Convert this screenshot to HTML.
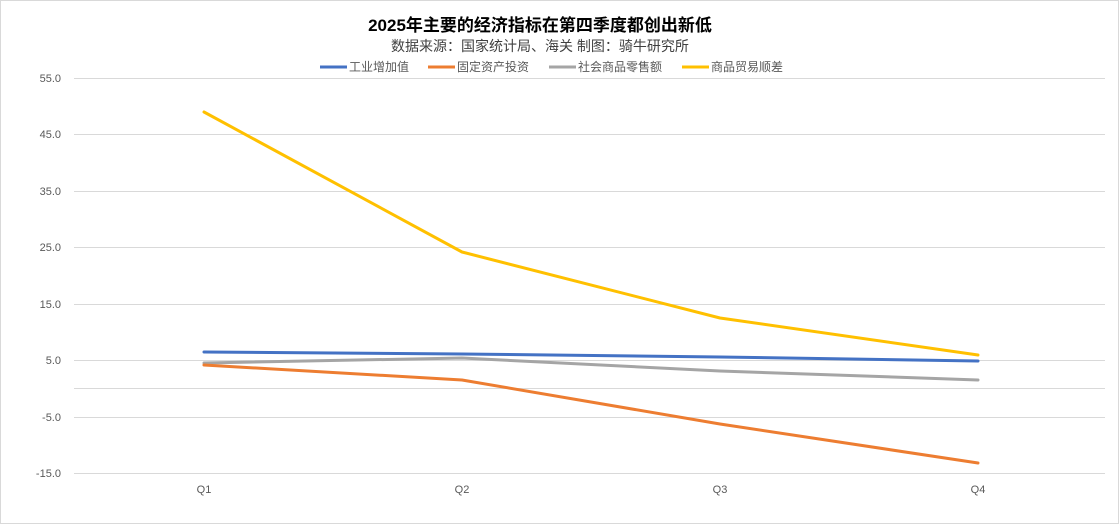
<!DOCTYPE html>
<html><head><meta charset="utf-8"><style>
html,body{margin:0;padding:0;background:#fff;}
svg{display:block;}
text{font-family:"Liberation Sans","Noto Sans CJK SC",sans-serif;}
</style></head><body>
<svg width="1119" height="524" viewBox="0 0 1119 524" xmlns="http://www.w3.org/2000/svg">
<rect x="0.5" y="0.5" width="1118" height="523" fill="#fff" stroke="#d9d9d9"/>
<text x="540" y="31" text-anchor="middle" font-size="17" font-weight="bold" fill="#000">2025年主要的经济指标在第四季度都创出新低</text>
<text x="540" y="51" text-anchor="middle" font-size="14" fill="#404040">数据来源：国家统计局、海关  制图：骑牛研究所</text>
<g font-size="12" fill="#595959">
<line x1="320" y1="67" x2="347" y2="67" stroke="#4472c4" stroke-width="3"/><text x="349" y="71">工业增加值</text>
<line x1="428" y1="67" x2="455" y2="67" stroke="#ed7d31" stroke-width="3"/><text x="457" y="71">固定资产投资</text>
<line x1="549" y1="67" x2="576" y2="67" stroke="#a5a5a5" stroke-width="3"/><text x="578" y="71">社会商品零售额</text>
<line x1="682" y1="67" x2="709" y2="67" stroke="#ffc000" stroke-width="3"/><text x="711" y="71">商品贸易顺差</text>
</g>
<g stroke="#d9d9d9" stroke-width="1">
<line x1="74" y1="78.5" x2="1105" y2="78.5"/>
<line x1="74" y1="134.5" x2="1105" y2="134.5"/>
<line x1="74" y1="191.5" x2="1105" y2="191.5"/>
<line x1="74" y1="247.5" x2="1105" y2="247.5"/>
<line x1="74" y1="304.5" x2="1105" y2="304.5"/>
<line x1="74" y1="360.5" x2="1105" y2="360.5"/>
<line x1="74" y1="388.5" x2="1105" y2="388.5"/>
<line x1="74" y1="417.5" x2="1105" y2="417.5"/>
<line x1="74" y1="473.5" x2="1105" y2="473.5"/>
</g>
<g font-size="11" fill="#595959" text-anchor="end">
<text x="61" y="82">55.0</text>
<text x="61" y="138">45.0</text>
<text x="61" y="195">35.0</text>
<text x="61" y="251">25.0</text>
<text x="61" y="308">15.0</text>
<text x="61" y="364">5.0</text>
<text x="61" y="421">-5.0</text>
<text x="61" y="477">-15.0</text>
</g>
<g font-size="11" fill="#595959" text-anchor="middle">
<text x="204" y="493">Q1</text><text x="462" y="493">Q2</text><text x="720" y="493">Q3</text><text x="978" y="493">Q4</text>
</g>
<g fill="none" stroke-width="3" stroke-linejoin="round" stroke-linecap="round">
<polyline stroke="#a5a5a5" points="204,363 462,358 720,371 978,380"/>
<polyline stroke="#ed7d31" points="204,365 462,380 720,424 978,463"/>
<polyline stroke="#4472c4" points="204,352 462,354 720,357 978,361"/>
<polyline stroke="#ffc000" points="204,112 462,252 720,318 978,355"/>
</g>
</svg>
</body></html>
